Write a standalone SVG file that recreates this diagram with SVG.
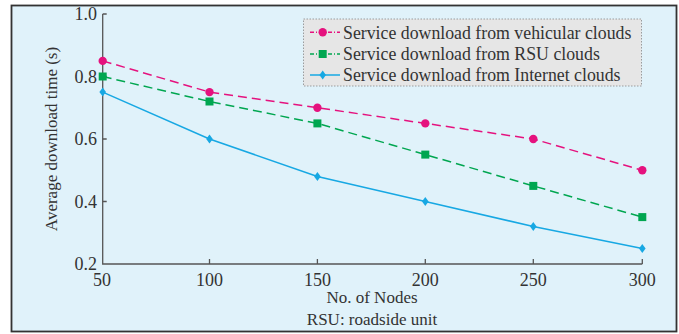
<svg xmlns="http://www.w3.org/2000/svg" width="679" height="334" viewBox="0 0 679 334">
  <style>
    .lbl { font-family: "Liberation Serif", "Times New Roman", serif; fill: #333; }
    .tick { font-size: 18px; }
    .title { font-size: 17px; }
    .leg { font-size: 17.8px; }
    .axis { stroke: #555; stroke-width: 1.3; fill: none; }
    .veh { stroke: #e5127e; fill: none; stroke-width: 1.5; }
    .rsu { stroke: #00a650; fill: none; stroke-width: 1.5; }
    .net { stroke: #17a8e3; fill: none; stroke-width: 1.5; }
    .plotdash { stroke-dasharray: 9 5; }
    .legdash { stroke-dasharray: 4 2 1 2; }
  </style>
  <defs>
    <circle id="mk-veh" r="4.2" fill="#e5127e"/>
    <rect id="mk-rsu" x="-4" y="-4" width="8" height="8" fill="#00a650"/>
    <polygon id="mk-net" points="0,-4.5 3.3,0 0,4.5 -3.3,0" fill="#17a8e3"/>
  </defs>

  <!-- panel -->
  <rect x="0" y="0" width="679" height="334" fill="#ffffff"/>
  <rect x="11.5" y="5.5" width="665" height="326" fill="#e0f2fa" stroke="#333" stroke-width="1.8"/>

  <!-- axes -->
  <g id="axes">
    <path class="axis" d="M102.7,14 V264 H642.3"/>
    <path class="axis" d="M102.7,14 h4 M102.7,76.5 h4 M102.7,139 h4 M102.7,201.5 h4
                          M209.5,264 v-5 M317.4,264 v-5 M425.3,264 v-5 M533.3,264 v-5 M642.3,264 v-5"/>
    <g class="lbl tick" text-anchor="end">
      <text x="97" y="20">1.0</text>
      <text x="97" y="82.5">0.8</text>
      <text x="97" y="145">0.6</text>
      <text x="97" y="207.5">0.4</text>
      <text x="97" y="270">0.2</text>
    </g>
    <g class="lbl tick" text-anchor="middle">
      <text x="102" y="286">50</text>
      <text x="209.5" y="286">100</text>
      <text x="317.4" y="286">150</text>
      <text x="425.3" y="286">200</text>
      <text x="533.3" y="286">250</text>
      <text x="642.3" y="286">300</text>
    </g>
    <text class="lbl title" x="372" y="303" text-anchor="middle">No. of Nodes</text>
    <text class="lbl title" x="372" y="325" text-anchor="middle">RSU: roadside unit</text>
    <text class="lbl title" font-size="17.5" transform="translate(57,139) rotate(-90)" text-anchor="middle">Average download time (s)</text>
  </g>

  <!-- data series -->
  <g id="connectors">
    <polyline class="veh plotdash" points="102.7,60.9 209.5,92.1 317.4,107.8 425.3,123.4 533.3,139 642.3,170.3"/>
    <polyline class="rsu plotdash" points="102.7,76.5 209.5,101.5 317.4,123.4 425.3,154.6 533.3,185.9 642.3,217.1"/>
    <polyline class="net" points="102.7,92.1 209.5,139 317.4,176.5 425.3,201.5 533.3,226.5 642.3,248.4"/>
  </g>

  <g id="series-vehicular">
    <use href="#mk-veh" x="102.7" y="60.9"/>
    <use href="#mk-veh" x="209.5" y="92.1"/>
    <use href="#mk-veh" x="317.4" y="107.8"/>
    <use href="#mk-veh" x="425.3" y="123.4"/>
    <use href="#mk-veh" x="533.3" y="139"/>
    <use href="#mk-veh" x="642.3" y="170.3"/>
  </g>
  <g id="series-rsu">
    <use href="#mk-rsu" x="102.7" y="76.5"/>
    <use href="#mk-rsu" x="209.5" y="101.5"/>
    <use href="#mk-rsu" x="317.4" y="123.4"/>
    <use href="#mk-rsu" x="425.3" y="154.6"/>
    <use href="#mk-rsu" x="533.3" y="185.9"/>
    <use href="#mk-rsu" x="642.3" y="217.1"/>
  </g>
  <g id="series-internet">
    <use href="#mk-net" x="102.7" y="92.1"/>
    <use href="#mk-net" x="209.5" y="139"/>
    <use href="#mk-net" x="317.4" y="176.5"/>
    <use href="#mk-net" x="425.3" y="201.5"/>
    <use href="#mk-net" x="533.3" y="226.5"/>
    <use href="#mk-net" x="642.3" y="248.4"/>
  </g>

  <!-- legend -->
  <g id="legend">
    <rect x="303.5" y="19" width="338" height="67" fill="#e6e6e6" stroke="#888" stroke-width="0.8" stroke-dasharray="1.5 1.5"/>
    <line class="veh legdash" x1="310" y1="32.3" x2="340" y2="32.3" stroke-width="1.2"/>
    <use href="#mk-veh" x="322.7" y="32.3"/>
    <text class="lbl leg" x="343" y="38.5">Service download from vehicular clouds</text>
    <line class="rsu legdash" x1="310" y1="54" x2="340" y2="54" stroke-width="1.2"/>
    <use href="#mk-rsu" x="322.7" y="54"/>
    <text class="lbl leg" x="343" y="60">Service download from RSU clouds</text>
    <line class="net" x1="310" y1="75" x2="340" y2="75" stroke-width="1.2"/>
    <use href="#mk-net" x="322.7" y="75"/>
    <text class="lbl leg" x="343" y="81">Service download from Internet clouds</text>
  </g>
</svg>
